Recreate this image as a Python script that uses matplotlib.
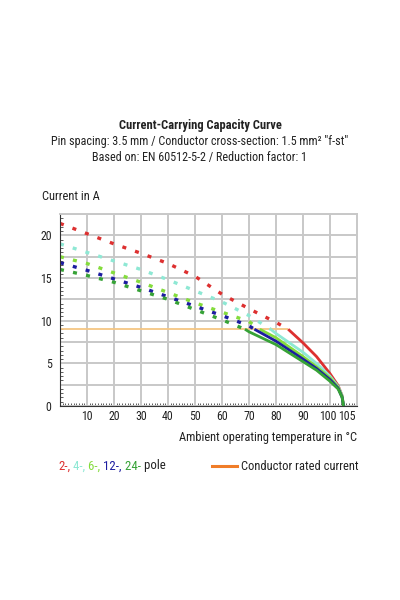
import matplotlib
matplotlib.use('Agg')
import matplotlib.pyplot as plt
from matplotlib import font_manager
import matplotlib.transforms as mtransforms
import numpy as np

# pick a narrow font if one is installed
names = {f.name for f in font_manager.fontManager.ttflist}
if 'Roboto Condensed' in names:
    FONT = 'Roboto Condensed'
elif 'Liberation Sans Narrow' in names:
    FONT = 'Liberation Sans Narrow'
else:
    FONT = 'Roboto'
plt.rcParams['font.family'] = [FONT, 'DejaVu Sans']

rated_current = 9.0
rated_end = 84.5

# temperature (C) / current (A)
t_2 = [0, 10, 20, 30, 40, 50, 60, 70, 80, 84.5, 90, 95, 100, 103, 104.5, 105]
i_2 = [21.4, 20.2, 19.0, 17.9, 16.7, 15.2, 13.1, 11.4, 9.8, 9.0, 7.4, 5.8, 3.8, 2.4, 1.2, 0]

t_4 = [0, 10, 20, 30, 40, 50, 60, 70, 78, 80, 90, 95, 100, 103, 104.5, 105]
i_4 = [19.0, 18.0, 17.0, 16.0, 14.8, 13.5, 12.2, 10.6, 9.0, 8.5, 6.3, 5.0, 3.5, 2.3, 1.2, 0]

t_6 = [0, 10, 20, 30, 40, 50, 60, 70, 74, 80, 90, 95, 100, 103, 104.5, 105]
i_6 = [17.5, 16.7, 15.6, 14.5, 13.3, 12.1, 11.0, 9.9, 9.0, 8.0, 5.8, 4.6, 3.3, 2.2, 1.1, 0]

t_12 = [0, 10, 20, 30, 40, 50, 60, 70, 72, 80, 90, 95, 100, 103, 104.5, 105]
i_12 = [16.8, 15.9, 14.9, 13.9, 12.8, 11.7, 10.6, 9.4, 9.0, 7.6, 5.5, 4.4, 3.1, 2.1, 1.0, 0]

t_24 = [0, 10, 20, 30, 40, 50, 60, 68.5, 70, 80, 90, 95, 100, 103, 104.5, 105]
i_24 = [16.0, 15.3, 14.5, 13.5, 12.5, 11.3, 10.1, 9.0, 8.7, 7.2, 5.2, 4.2, 2.9, 2.0, 1.0, 0]

series = [
    (t_2, i_2, '#dd3030'),
    (t_4, i_4, '#8ee8d4'),
    (t_6, i_6, '#84dc3c'),
    (t_12, i_12, '#1c1ca0'),
    (t_24, i_24, '#36a236'),
]
legend_parts = [('2-,', '#dd3030'), (' 4-,', '#8ee8d4'), (' 6-,', '#84dc3c'),
                (' 12-,', '#1c1ca0'), (' 24-', '#36a236'), (' pole', '#222222')]

x_labels = [10, 20, 30, 40, 50, 60, 70, 80, 90, 100, 105]
x_grid = [10, 20, 30, 40, 50, 60, 70, 80, 90, 100]
y_ticks = np.arange(0, 22.6, 2.5)

fig = plt.figure(figsize=(4, 6), dpi=100)
ax = fig.add_axes([0.15, 0.3233, 0.7425, 0.32])

grid_col = '#c8c8c8'
ax.vlines(x_grid, 0, 22.5, color=grid_col, lw=1.4, zorder=0)
ax.set_yticks(y_ticks)
ax.set_yticklabels([f'{v:g}' if v % 5 == 0 else '' for v in y_ticks])
ax.yaxis.grid(True, color=grid_col, lw=1.4, zorder=0)
ax.set_axisbelow(True)

ax.hlines(rated_current, 0, rated_end, color='#f5c684', lw=1.3, zorder=1)

for t, cur, col in series:
    t = np.array(t)
    cur = np.array(cur)
    hot = cur <= rated_current
    cold = cur >= rated_current
    ax.plot(t[cold], cur[cold], color=col, lw=2.4, linestyle=(0, (1.2, 2.8)),
            zorder=2)
    ax.plot(t[hot], cur[hot], color=col, lw=2.0, zorder=3,
            solid_capstyle='butt')

ax.set_xlim(0, 110)
ax.set_ylim(0, 22.5)
ax.set_xticks(x_labels)
ax.set_xticklabels([str(v) for v in x_labels])
ax.set_xticks(np.arange(0, 110, 1), minor=True)
ax.set_yticks(np.arange(0, 22.5, 0.5), minor=True)
ax.tick_params(which='major', length=0, labelsize=8.6, colors='#222222')
ax.tick_params(axis='x', which='major', pad=3)
ax.tick_params(axis='y', which='major', pad=6)
ax.tick_params(which='minor', direction='in', length=2, width=0.6, color='#444444')
ax.tick_params(which='minor', top=False, right=False)

# nudge the crowded 100 / 105 labels apart
labs = ax.get_xticklabels()
labs[-2].set_transform(labs[-2].get_transform() +
                       mtransforms.ScaledTranslation(-2 / 100, 0, fig.dpi_scale_trans))
labs[-1].set_transform(labs[-1].get_transform() +
                       mtransforms.ScaledTranslation(3 / 100, 0, fig.dpi_scale_trans))

for s in ['top', 'right']:
    ax.spines[s].set_color(grid_col)
    ax.spines[s].set_linewidth(1.4)
for s in ['left', 'bottom']:
    ax.spines[s].set_color('#333333')
    ax.spines[s].set_linewidth(0.8)

fig.text(0.5, 1 - 125 / 600, 'Current-Carrying Capacity Curve', ha='center',
         va='center', fontsize=9, fontweight='bold', color='#222222')
fig.text(0.5, 1 - 142 / 600,
         'Pin spacing: 3.5 mm / Conductor cross-section: 1.5 mm² "f-st"',
         ha='center', va='center', fontsize=8.7, color='#222222')
fig.text(0.5, 1 - 157 / 600, 'Based on: EN 60512-5-2 / Reduction factor: 1',
         ha='center', va='center', fontsize=8.7, color='#222222')

fig.text(42 / 400, 1 - 197 / 600, 'Current in A', ha='left', va='center',
         fontsize=9, color='#222222')
fig.text(357 / 400, 1 - 437 / 600, 'Ambient operating temperature in °C',
         ha='right', va='center', fontsize=8.9, color='#222222')

# legend row
prev = fig.text(58 / 400, 1 - 466 / 600, legend_parts[0][0], ha='left',
                va='center', fontsize=9.3, color=legend_parts[0][1])
for txt, col in legend_parts[1:]:
    prev = ax.annotate(txt, xy=(1, 0), xycoords=prev, ha='left', va='bottom',
                       fontsize=9.3, color=col, annotation_clip=False)
fig.add_artist(plt.Line2D([212 / 400, 237 / 400], [1 - 466 / 600] * 2,
                          color='#f07d28', lw=2.2))
fig.text(241 / 400, 1 - 466 / 600, 'Conductor rated current', ha='left',
         va='center', fontsize=9, color='#222222')

fig.savefig('out.png', dpi=100)
